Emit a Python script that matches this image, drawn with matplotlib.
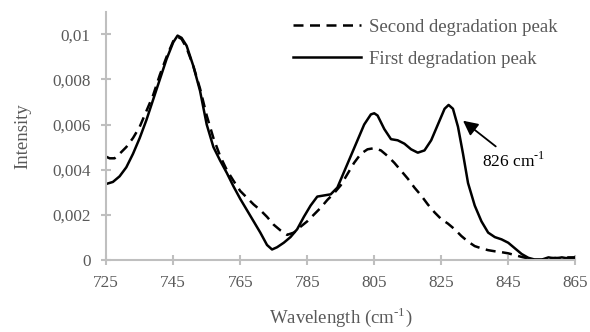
import matplotlib.pyplot as plt

plt.rcParams['font.family'] = ['Liberation Serif', 'DejaVu Serif']
plt.rcParams['mathtext.fontset'] = 'custom'
plt.rcParams['mathtext.rm'] = 'Liberation Serif'

# espectro do primeiro pico de degradacao
wl_first = [725, 727, 729, 731, 733, 735, 737, 739, 741, 743, 745, 746.3, 747.5, 749,
            751, 753, 755, 757, 759, 761, 763, 765, 767, 769, 771, 773, 774.5, 776,
            778, 780, 782, 784, 786, 788, 790, 792, 794, 796, 798, 800, 802, 804, 805,
            806, 808, 810, 812, 814, 816, 818, 820, 822, 824, 826, 827.2, 828.5, 830,
            831.5, 833, 835, 837, 839, 841, 843, 845, 847, 849, 851, 853, 855, 857,
            859, 861, 863, 865]
int_first = [3.36, 3.45, 3.7, 4.1, 4.7, 5.4, 6.2, 7.1, 8.0, 8.9, 9.65, 9.95, 9.85, 9.5,
             8.6, 7.5, 6.0, 5.0, 4.4, 3.85, 3.25, 2.7, 2.2, 1.7, 1.2, 0.65, 0.45, 0.55,
             0.75, 1.0, 1.35, 1.9, 2.4, 2.8, 2.85, 2.9, 3.2, 3.9, 4.6, 5.3, 6.0, 6.45, 6.5,
             6.4, 5.8, 5.35, 5.3, 5.15, 4.9, 4.75, 4.85, 5.3, 6.0, 6.7, 6.87, 6.7, 5.9,
             4.7, 3.4, 2.4, 1.7, 1.2, 1.0, 0.9, 0.75, 0.5, 0.25, 0.08, 0.0, 0.0, 0.1,
             0.05, 0.1, 0.05, 0.08]

# espectro do segundo pico de degradacao
wl_second = [725, 726, 727.5, 729, 731, 733, 735, 737, 739, 741, 743, 745, 746.3, 747.5,
             749, 751, 753, 755, 757, 759, 761, 763, 765, 767, 769, 771, 773, 775, 777,
             779, 781, 783, 785, 787, 789, 791, 793, 795, 797, 799, 801, 803, 805, 807,
             809, 811, 813, 815, 817, 819, 821, 823, 825, 827, 829, 831, 833, 835, 837,
             839, 841, 843, 845, 847, 849, 851, 853, 855, 857, 859, 861, 863, 865]
int_second = [4.57, 4.5, 4.5, 4.7, 5.0, 5.4, 5.9, 6.6, 7.3, 8.2, 9.0, 9.7, 9.9, 9.8,
              9.4, 8.6, 7.6, 6.4, 5.4, 4.6, 3.98, 3.5, 3.05, 2.75, 2.45, 2.2, 1.9, 1.55, 1.3,
              1.1, 1.2, 1.46, 1.7, 2.0, 2.3, 2.65, 2.95, 3.3, 3.8, 4.3, 4.7, 4.9, 4.95, 4.85,
              4.6, 4.3, 3.95, 3.6, 3.2, 2.85, 2.45, 2.1, 1.8, 1.6, 1.35, 1.05, 0.8, 0.6, 0.5,
              0.42, 0.37, 0.33, 0.28, 0.2, 0.12, 0.05, 0.0, 0.0, 0.05, 0.08, 0.05, 0.1, 0.1]

x_ticks = [725, 745, 765, 785, 805, 825, 845, 865]
y_ticks = [0, 0.002, 0.004, 0.006, 0.008, 0.01]
y_labels = ['0', '0,002', '0,004', '0,006', '0,008', '0,01']

cinza = '#595959'
eixo = '#bfbfbf'

fig = plt.figure(figsize=(5.9, 3.32), dpi=100)
ax = fig.add_axes([0.18, 0.218, 0.795, 0.746])

ax.plot(wl_second, [v / 1000 for v in int_second], color='black', lw=1.8,
        linestyle=(0, (4, 2.6)), label='Second degradation peak')
ax.plot(wl_first, [v / 1000 for v in int_first], color='black', lw=1.8,
        label='First degradation peak')

ax.set_xlim(725, 865)
ax.set_ylim(0, 0.011)
ax.set_xticks(x_ticks)
ax.set_yticks(y_ticks)
ax.set_yticklabels(y_labels)

for lado in ['top', 'right']:
    ax.spines[lado].set_visible(False)
for lado in ['left', 'bottom']:
    ax.spines[lado].set_color(eixo)
    ax.spines[lado].set_linewidth(1.5)

ax.tick_params(direction='inout', length=6.5, width=1.5, color=eixo,
               labelcolor=cinza, labelsize=12.3)
ax.tick_params(axis='x', pad=8)
ax.tick_params(axis='y', pad=8)

ax.set_xlabel('Wavelength (cm$^{\\text{-1}}$)', color=cinza, fontsize=13.5, labelpad=10)
ax.set_ylabel('Intensity', color=cinza, fontsize=13.5, labelpad=15)

ax.annotate('826 cm$^{\\text{-1}}$', xy=(831.5, 0.00617), xytext=(837.2, 0.0044),
            fontsize=12.5, color='black', va='center',
            arrowprops=dict(arrowstyle='-|>', color='black', lw=1.3, mutation_scale=22,
                            shrinkA=2, shrinkB=0))

leg = ax.legend(loc='upper left', bbox_to_anchor=(0.399, 0.973), frameon=False,
                fontsize=13.5, handlelength=3.6, handletextpad=0.43, labelspacing=0.8,
                borderpad=0, borderaxespad=0)
for t in leg.get_texts():
    t.set_color(cinza)

fig.savefig('out.png', dpi=100)
